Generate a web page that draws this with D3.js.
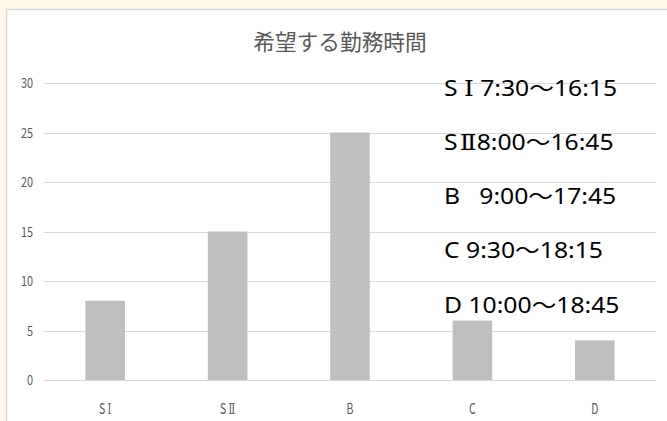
<!DOCTYPE html>
<html>
<head>
<meta charset="utf-8">
<script src="https://cdn.jsdelivr.net/npm/d3@7"></script>
<style>
  html, body { margin: 0; padding: 0; background: #fff9e9; }
  svg { display: block; }
</style>
</head>
<body>
<svg id="chart"></svg>
<script>
// data
var categories = ["SⅠ", "SⅡ", "B", "C", "D"];
var values = [8, 15, 25, 6, 4];
var yTicks = [0, 5, 10, 15, 20, 25, 30];
var notes = ["S Ⅰ 7:30～16:15", "SⅡ8:00～16:45", "B   9:00～17:45", "C 9:30～18:15", "D 10:00～18:45"];
var title = "希望する勤務時間";

var W = 667, H = 421;
var svg = d3.select("#chart").attr("width", W).attr("height", H);

// split roman numerals out so they get a serif face like the original
function fillParts(sel, txt, serifSize, gap) {
  txt.split(/([ⅠⅡ])/).forEach(function(p) {
    if (!p) return;
    var t = sel.append("tspan").text(p);
    if (/[ⅠⅡ]/.test(p)) {
      t.attr("font-family", "'DejaVu Serif', 'Liberation Serif', serif").attr("font-size", serifSize);
      if (gap) t.attr("dx", gap);
    }
  });
}

// white chart box
svg.append("rect")
  .attr("x", 6.5).attr("y", 9.5)
  .attr("width", W).attr("height", H)
  .attr("fill", "#fff")
  .attr("stroke", "#d9d9d9").attr("stroke-width", 1.5);

var x = d3.scaleBand().domain(categories).range([44, 656])
  .paddingInner(0.677).paddingOuter(0.3385);
var y = d3.scaleLinear().domain([0, 30]).range([380, 83]);

// grid
svg.append("g").selectAll("line")
  .data(yTicks).enter().append("line")
  .attr("x1", 44).attr("x2", 656)
  .attr("y1", function(d) { return Math.round(y(d)) + 0.5; })
  .attr("y2", function(d) { return Math.round(y(d)) + 0.5; })
  .attr("stroke", "#d9d9d9").attr("stroke-width", 1);

// y tick labels (narrow look)
svg.append("g").selectAll("text")
  .data(yTicks).enter().append("text")
  .attr("transform", function(d) { return "translate(33," + (y(d) + 5) + ") scale(0.78,1)"; })
  .attr("text-anchor", "end")
  .attr("font-family", "'Noto Sans CJK JP', sans-serif")
  .attr("font-size", 14)
  .attr("fill", "#595959")
  .text(function(d) { return d; });

// bars
svg.append("g").selectAll("rect")
  .data(values).enter().append("rect")
  .attr("x", function(d, i) { return x(categories[i]); })
  .attr("y", function(d) { return y(d); })
  .attr("width", x.bandwidth())
  .attr("height", function(d) { return y(0) - y(d); })
  .attr("fill", "#bfbfbf");

// category labels
svg.append("g").selectAll("text")
  .data(categories).enter().append("text")
  .attr("transform", function(d) { return "translate(" + (x(d) + x.bandwidth() / 2) + ",414) scale(0.7,1)"; })
  .attr("text-anchor", "middle")
  .attr("font-family", "'Noto Sans CJK JP', sans-serif")
  .attr("font-size", 15)
  .attr("fill", "#595959")
  .each(function(d) { fillParts(d3.select(this), d, 14, 3); });

// title
svg.append("text")
  .attr("x", 340).attr("y", 50)
  .attr("text-anchor", "middle")
  .attr("font-family", "'Noto Sans CJK JP', sans-serif")
  .attr("font-size", 21.7)
  .attr("fill", "#595959")
  .text(title);

// text box with shift times
svg.append("g").selectAll("text")
  .data(notes).enter().append("text")
  .attr("transform", function(d, i) { return "translate(444," + (95.5 + i * 54.3) + ") scale(1.15,1)"; })
  .attr("font-family", "'Noto Sans', 'Noto Sans CJK JP', sans-serif")
  .attr("font-size", 21.5)
  .attr("fill", "#000")
  .attr("xml:space", "preserve")
  .style("white-space", "pre")
  .each(function(d, i) { fillParts(d3.select(this), d, 21.5, i === 1 ? 2 : 0); });
</script>
</body>
</html>
